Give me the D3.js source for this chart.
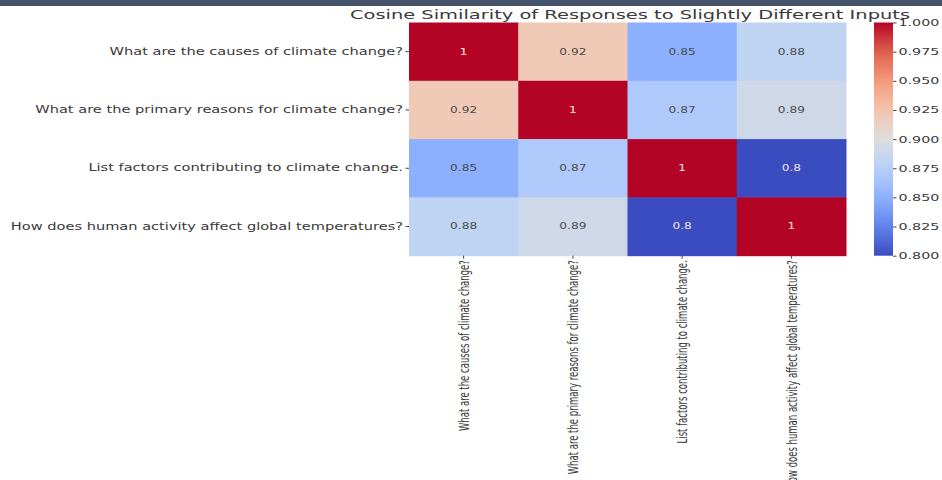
<!DOCTYPE html>
<html>
<head>
<meta charset="utf-8">
<script src="https://cdn.jsdelivr.net/npm/d3@7"></script>
<style>
  body { margin: 0; background: #fff; }
  svg { display: block; font-family: "DejaVu Sans", sans-serif; }
</style>
</head>
<body>
<svg id="chart" width="942" height="480"></svg>
<script>
const questions = [
    "What are the causes of climate change?",
    "What are the primary reasons for climate change?",
    "List factors contributing to climate change.",
    "How does human activity affect global temperatures?"
];
const similarity = [
    [1, 0.92, 0.85, 0.88],
    [0.92, 1, 0.87, 0.89],
    [0.85, 0.87, 1, 0.8],
    [0.88, 0.89, 0.8, 1]
];
const colorbarTicks = [0.8, 0.825, 0.85, 0.875, 0.9, 0.925, 0.95, 0.975, 1.0];
const titleText = "Cosine Similarity of Responses to Slightly Different Inputs";

// coolwarm colormap stops (Moreland)
const coolwarm = ["#3b4cc0", "#6282ea", "#8db0fe", "#b8d0f9", "#dddddd",
                  "#f5c4ad", "#f49a7b", "#de604d", "#b40426"];

const SX = 1.52; // the picture is stretched horizontally
const vmin = 0.8, vmax = 1.0;

const svg = d3.select("#chart");

svg.append("rect")
    .attr("x", 0).attr("y", 0)
    .attr("width", 942).attr("height", 6)
    .attr("fill", "#44536a");

const plotLeft = 409, plotRight = 846, plotTop = 22.5, plotBottom = 255.7;

const x = d3.scaleBand().domain(d3.range(questions.length)).range([plotLeft, plotRight]);
const y = d3.scaleBand().domain(d3.range(questions.length)).range([plotTop, plotBottom]);

const color = d3.scaleLinear()
    .domain(coolwarm.map((c, i) => vmin + (vmax - vmin) * i / (coolwarm.length - 1)))
    .range(coolwarm)
    .interpolate(d3.interpolateRgb)
    .clamp(true);

const cells = [];
similarity.forEach((row, i) => row.forEach((v, j) => cells.push({ i, j, v })));

svg.append("g").selectAll("rect")
    .data(cells)
    .enter().append("rect")
    .attr("x", d => x(d.j))
    .attr("y", d => y(d.i))
    .attr("width", x.bandwidth() + 0.5)
    .attr("height", y.bandwidth() + 0.5)
    .attr("fill", d => color(d.v));

function isDark(c) {
    const rgb = d3.rgb(c);
    const lin = v => { v /= 255; return v <= 0.03928 ? v / 12.92 : Math.pow((v + 0.055) / 1.055, 2.4); };
    return 0.2126 * lin(rgb.r) + 0.7152 * lin(rgb.g) + 0.0722 * lin(rgb.b) < 0.408;
}

svg.append("g").selectAll("text")
    .data(cells)
    .enter().append("text")
    .attr("transform", d => `translate(${x(d.j) + x.bandwidth() / 2},${y(d.i) + y.bandwidth() / 2}) scale(${SX},1)`)
    .attr("text-anchor", "middle")
    .attr("dy", "0.36em")
    .attr("font-size", 8)
    .attr("fill", d => isDark(color(d.v)) ? "#f4e4e6" : "#4a4a4a")
    .text(d => d3.format(".2~g")(d.v));

// y axis
const yAxis = svg.append("g")
    .attr("transform", `translate(${plotLeft},0)`)
    .call(d3.axisLeft(y).tickSize(3.5).tickFormat(i => questions[i]));
yAxis.select(".domain").remove();
yAxis.selectAll("line").attr("stroke", "#444");
yAxis.selectAll("text")
    .attr("x", null)
    .attr("transform", `translate(-6,0) scale(${SX},1)`)
    .attr("font-size", 9.6)
    .attr("font-family", "DejaVu Sans")
    .attr("fill", "#3a3a3a");

// x axis
const xAxis = svg.append("g")
    .attr("transform", `translate(0,${plotBottom})`)
    .call(d3.axisBottom(x).tickSize(3).tickFormat(i => questions[i]));
xAxis.select(".domain").remove();
xAxis.selectAll("line").attr("stroke", "#444");
xAxis.selectAll("text")
    .attr("x", null).attr("y", null)
    .attr("dy", "0.36em")
    .attr("text-anchor", "end")
    .attr("transform", `translate(0,4.5) rotate(-90) scale(1,1.7)`)
    .attr("font-size", 8.5)
    .attr("font-family", "DejaVu Sans")
    .attr("fill", "#3a3a3a");

// title
svg.append("text")
    .attr("transform", `translate(630,19) scale(${SX},1)`)
    .attr("text-anchor", "middle")
    .attr("font-size", 12.8)
    .attr("fill", "#3a3a3a")
    .text(titleText);

// colorbar
const cbLeft = 874, cbRight = 893;
const cb = d3.scaleLinear().domain([vmin, vmax]).range([plotBottom, plotTop]);

const grad = svg.append("defs").append("linearGradient")
    .attr("id", "cbgrad")
    .attr("x1", 0).attr("y1", 1).attr("x2", 0).attr("y2", 0);
grad.selectAll("stop")
    .data(d3.range(0, 1.0001, 0.05))
    .enter().append("stop")
    .attr("offset", t => t)
    .attr("stop-color", t => color(vmin + (vmax - vmin) * t));

svg.append("rect")
    .attr("x", cbLeft).attr("y", plotTop)
    .attr("width", cbRight - cbLeft).attr("height", plotBottom - plotTop)
    .attr("fill", "url(#cbgrad)");

const cbAxis = svg.append("g")
    .attr("transform", `translate(${cbRight},0)`)
    .call(d3.axisRight(cb).tickValues(colorbarTicks).tickSize(3.5).tickFormat(d3.format(".3f")));
cbAxis.select(".domain").remove();
cbAxis.selectAll("line").attr("stroke", "#444");
cbAxis.selectAll("text")
    .attr("x", null)
    .attr("transform", `translate(5.5,0) scale(${SX},1)`)
    .attr("font-size", 9.4)
    .attr("font-family", "DejaVu Sans")
    .attr("fill", "#3a3a3a");
</script>
</body>
</html>
